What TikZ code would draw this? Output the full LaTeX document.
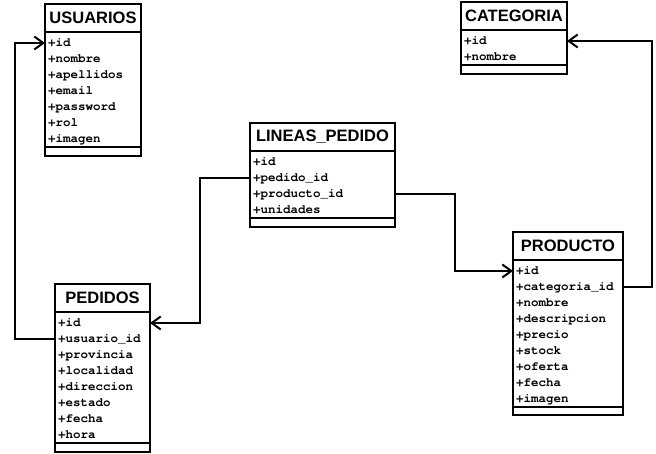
\documentclass[tikz,border=0pt]{standalone}
\usepackage{fontspec}
\newfontfamily\titlefont{Liberation Sans}
\newfontfamily\attrfont{TeX Gyre Cursor}
\usetikzlibrary{calc}
\usetikzlibrary{arrows.meta}

\tikzset{
  enttitle/.style={draw, line width=2pt, anchor=north west, inner sep=0pt, outer sep=0pt,
    minimum height=28pt, font=\titlefont\bfseries\fontsize{16.5}{18}\selectfont},
  entattr/.style={anchor=north west, inner xsep=3pt, inner ysep=0pt, outer sep=0pt,
    minimum height=16pt, text height=10pt, text depth=2.5pt, align=left,
    font=\attrfont\bfseries\fontsize{12.5}{16}\selectfont},
  entbox/.style={draw, line width=2pt},
  link/.style={line width=2pt, -{Straight Barb[length=9pt,width=13pt]}}
}

\begin{document}
\begin{tikzpicture}[x=1pt,y=-1pt]
  \useasboundingbox (0,0) rectangle (656,454);

  % USUARIOS
  \node[enttitle, minimum width=96pt] (usuarios) at (45,4) {USUARIOS};
  \foreach \f [count=\i] in {id,nombre,apellidos,email,password,rol,imagen}
    \node[entattr, text width=90pt] (usuarios-\i) at ($(usuarios.south west)+(0,{3+16*(\i-1)})$) {+\f};
  \draw[entbox] (usuarios.north west) rectangle ($(usuarios-7.south east)+(0,9)$);
  \draw[entbox] (usuarios-7.south west) -- (usuarios-7.south east);

  % CATEGORIA
  \node[enttitle, minimum width=106pt] (categoria) at (461,2) {CATEGORIA};
  \foreach \f [count=\i] in {id,nombre}
    \node[entattr, text width=100pt] (categoria-\i) at ($(categoria.south west)+(0,{3+16*(\i-1)})$) {+\f};
  \draw[entbox] (categoria.north west) rectangle ($(categoria-2.south east)+(0,9)$);
  \draw[entbox] (categoria-2.south west) -- (categoria-2.south east);

  % LINEAS_PEDIDO
  \node[enttitle, minimum width=145pt] (lineas) at (250,123) {LINEAS\_PEDIDO};
  \foreach \f [count=\i] in {id,pedido\_id,producto\_id,unidades}
    \node[entattr, text width=139pt] (lineas-\i) at ($(lineas.south west)+(0,{3+16*(\i-1)})$) {+\f};
  \draw[entbox] (lineas.north west) rectangle ($(lineas-4.south east)+(0,9)$);
  \draw[entbox] (lineas-4.south west) -- (lineas-4.south east);

  % PEDIDOS
  \node[enttitle, minimum width=95pt] (pedidos) at (55,284) {PEDIDOS};
  \foreach \f [count=\i] in {id,usuario\_id,provincia,localidad,direccion,estado,fecha,hora}
    \node[entattr, text width=89pt] (pedidos-\i) at ($(pedidos.south west)+(0,{3+16*(\i-1)})$) {+\f};
  \draw[entbox] (pedidos.north west) rectangle ($(pedidos-8.south east)+(0,9)$);
  \draw[entbox] (pedidos-8.south west) -- (pedidos-8.south east);

  % PRODUCTO
  \node[enttitle, minimum width=110pt] (producto) at (513,232) {PRODUCTO};
  \foreach \f [count=\i] in {id,categoria\_id,nombre,descripcion,precio,stock,oferta,fecha,imagen}
    \node[entattr, text width=104pt] (producto-\i) at ($(producto.south west)+(0,{3+16*(\i-1)})$) {+\f};
  \draw[entbox] (producto.north west) rectangle ($(producto-9.south east)+(0,8)$);
  \draw[entbox] (producto-9.south west) -- (producto-9.south east);

  % relaciones
  \draw[link] (pedidos-2.west) -- ++(-40,0) |- (usuarios-1.west);
  \draw[link] (lineas-2.west) -- ++(-50,0) |- (pedidos-1.east);
  \draw[link] (lineas-3.east) -- ++(60,0) |- (producto-1.west);
  \draw[link] (producto-2.east) -- ++(29,0) |- (categoria-1.east);
\end{tikzpicture}
\end{document}
